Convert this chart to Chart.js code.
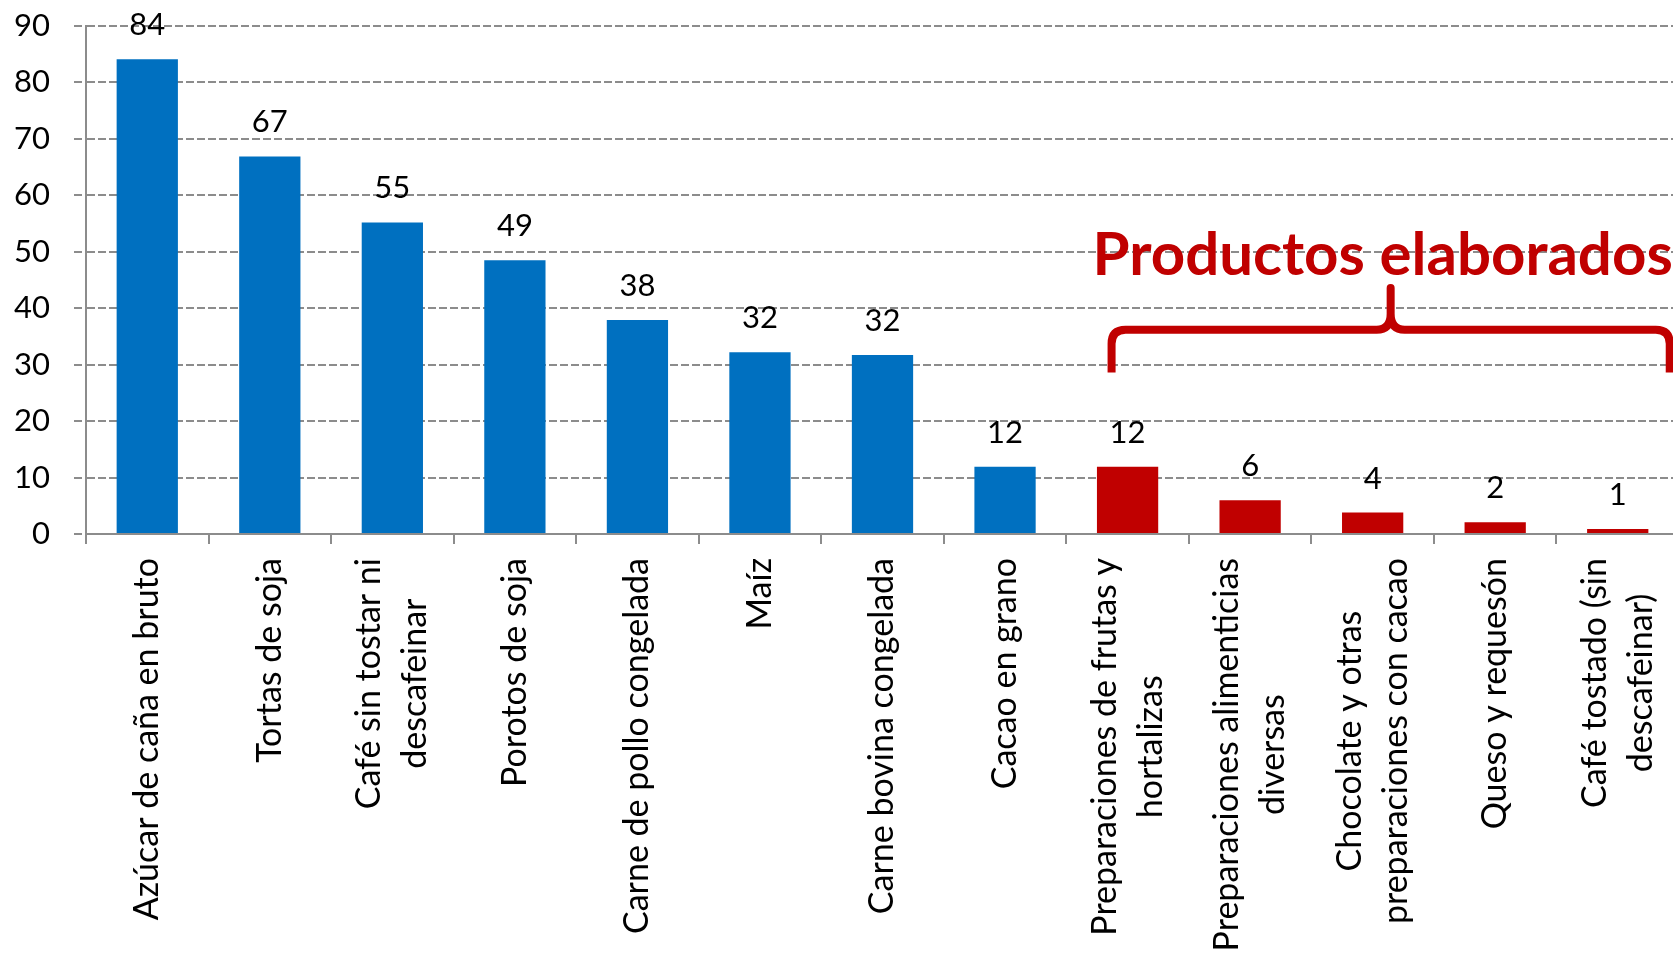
<!DOCTYPE html>
<html>
<head>
<meta charset="utf-8">
<script src="https://cdn.jsdelivr.net/npm/chart.js@4.4.1/dist/chart.umd.min.js"></script>
<style>
  html, body { margin: 0; padding: 0; background: #ffffff; overflow: hidden; }
  #wrap { width: 1673px; height: 962px; position: relative; overflow: hidden; }
  #c { display: block; }
</style>
</head>
<body>
<div id="wrap"><canvas id="c" width="1679" height="962"></canvas></div>
<script>
const categories = [
  ['Azúcar de caña en bruto'],
  ['Tortas de soja'],
  ['Café sin tostar ni', 'descafeinar'],
  ['Porotos de soja'],
  ['Carne de pollo congelada'],
  ['Maíz'],
  ['Carne bovina congelada'],
  ['Cacao en grano'],
  ['Preparaciones de frutas y', 'hortalizas'],
  ['Preparaciones alimenticias', 'diversas'],
  ['Chocolate y otras', 'preparaciones con cacao'],
  ['Queso y requesón'],
  ['Café tostado (sin', 'descafeinar)']
];
const values = [84.1, 66.9, 55.2, 48.5, 37.9, 32.2, 31.7, 11.9, 11.9, 6.0, 3.8, 2.1, 0.9];
const groups = ['primario','primario','primario','primario','primario','primario','primario','primario',
                'elaborado','elaborado','elaborado','elaborado','elaborado'];
const yTicks = [0, 10, 20, 30, 40, 50, 60, 70, 80, 90];
const annotationText = 'Productos elaborados';

const BLUE = '#0070C0';
const RED = '#C00000';
const GRID = '#8c8c8c';
const FONT = 'Lato';

const customDraw = {
  id: 'customDraw',
  afterDatasetsDraw(chart) {
    const ctx = chart.ctx;
    const xs = chart.scales.x;
    const ys = chart.scales.y;
    const meta = chart.getDatasetMeta(0);
    ctx.save();
    // value labels
    ctx.fillStyle = '#000';
    ctx.font = '31px ' + FONT;
    ctx.textAlign = 'center';
    ctx.textBaseline = 'middle';
    meta.data.forEach((bar, i) => {
      ctx.fillText(String(Math.round(values[i])), bar.x, bar.y - 34);
    });
    // category labels (rotated, centered lines, top-aligned blocks)
    ctx.font = '34px ' + FONT;
    const lh = 46;
    const top = 558;
    categories.forEach((lines, i) => {
      const cx = xs.getPixelForValue(i);
      let w = 0;
      lines.forEach(l => { w = Math.max(w, ctx.measureText(l).width); });
      lines.forEach((l, k) => {
        const lx = cx + (k - (lines.length - 1) / 2) * lh;
        ctx.save();
        ctx.translate(lx, top + w / 2);
        ctx.rotate(-Math.PI / 2);
        ctx.textAlign = 'center';
        ctx.textBaseline = 'middle';
        ctx.fillText(l, 0, 0);
        ctx.restore();
      });
    });
    // brace annotation
    const first = groups.indexOf('elaborado');
    const last = groups.lastIndexOf('elaborado');
    const L = xs.getPixelForValue(first) - 16;
    const R = xs.getPixelForValue(last) + 52;
    const C = (L + R) / 2;
    const yH = ys.getPixelForValue(36.2);
    const yEnd = ys.getPixelForValue(28.6);
    const yPeak = ys.getPixelForValue(43.6);
    ctx.strokeStyle = RED;
    ctx.lineWidth = 8;
    ctx.lineCap = 'butt';
    ctx.lineJoin = 'round';
    ctx.beginPath();
    ctx.moveTo(L, yEnd);
    ctx.lineTo(L, yH + 14);
    ctx.quadraticCurveTo(L, yH, L + 14, yH);
    ctx.lineTo(C - 14, yH);
    ctx.quadraticCurveTo(C, yH, C, yH - 16);
    ctx.lineTo(C, yPeak);
    ctx.lineTo(C, yH - 16);
    ctx.quadraticCurveTo(C, yH, C + 14, yH);
    ctx.lineTo(R - 14, yH);
    ctx.quadraticCurveTo(R, yH, R, yH + 14);
    ctx.lineTo(R, yEnd);
    ctx.stroke();
    ctx.fillStyle = RED;
    ctx.font = 'bold 60px ' + FONT;
    ctx.textAlign = 'center';
    ctx.textBaseline = 'alphabetic';
    ctx.fillText(annotationText, C - 8, ys.getPixelForValue(45.9));
    ctx.restore();
  }
};

new Chart(document.getElementById('c'), {
  type: 'bar',
  data: {
    labels: categories,
    datasets: [{
      data: values,
      backgroundColor: groups.map(g => g === 'elaborado' ? RED : BLUE),
      borderWidth: 0,
      barPercentage: 0.5,
      categoryPercentage: 1.0
    }]
  },
  options: {
    responsive: false,
    animation: false,
    devicePixelRatio: 1,
    layout: { padding: { top: 26, right: 0, left: 0, bottom: 0 } },
    plugins: { legend: { display: false }, tooltip: { enabled: false } },
    scales: {
      x: {
        offset: true,
        grid: {
          display: true, drawOnChartArea: false, drawTicks: true,
          tickLength: 10, color: GRID, lineWidth: 2, offset: true
        },
        border: { display: true, color: GRID, width: 2 },
        ticks: { display: false },
        afterFit(scale) { scale.height = 428; scale.paddingLeft = 0; scale.paddingRight = 0; }
      },
      y: {
        min: 0, max: 90,
        afterBuildTicks(scale) { scale.ticks = yTicks.map(v => ({ value: v })); },
        grid: {
          color: GRID, lineWidth: 2, tickBorderDash: [8, 3],
          drawTicks: true, tickLength: 12
        },
        border: { display: true, color: GRID, width: 2, dash: [8, 3] },
        ticks: {
          color: '#000', font: { family: FONT, size: 31 }, padding: 24
        },
        afterFit(scale) { scale.width = 86; scale.paddingTop = 0; scale.paddingBottom = 0; }
      }
    }
  },
  plugins: [customDraw]
});
</script>
</body>
</html>
